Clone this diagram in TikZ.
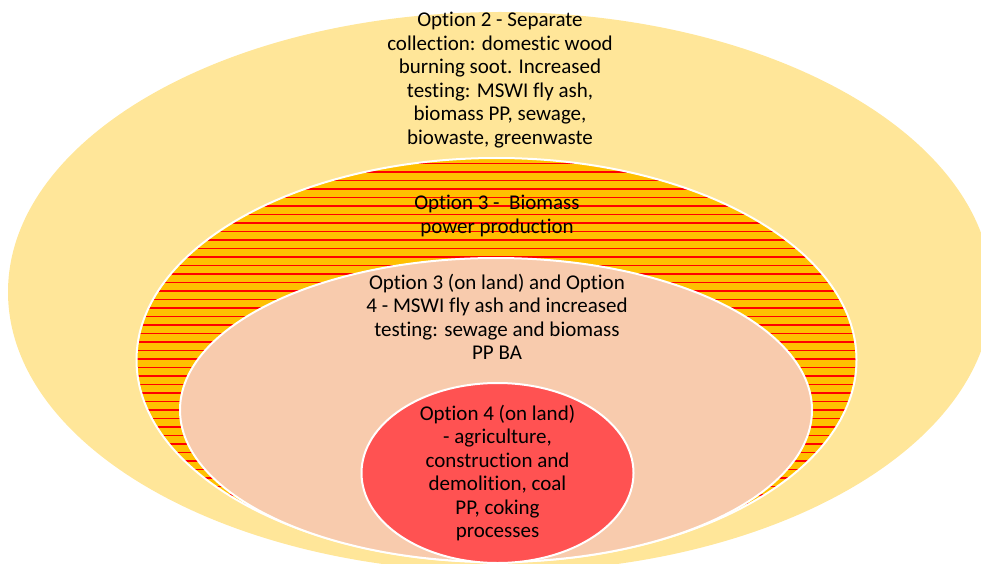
\documentclass[tikz,border=0pt]{standalone}
\usepackage{fontspec}
\setmainfont[Ligatures=NoCommon]{Carlito}
\definecolor{outery}{HTML}{FFE699}
\definecolor{orng}{HTML}{FFC000}
\definecolor{strp}{HTML}{FF0000}
\definecolor{peach}{HTML}{F8CBAD}
\definecolor{core}{HTML}{FF5252}
\tikzset{
  lbl/.style={align=center, inner sep=0pt, font=\fontsize{21}{23.5}\selectfont, text=black},
  ring/.style={draw=white, line width=2pt}
}
\begin{document}
\begin{tikzpicture}[x=1pt,y=-1pt]
\useasboundingbox (0,0) rectangle (981,564);
\begin{scope}
\clip (0,0) rectangle (981,564);
% outer ellipse
\fill[outery] (500,292) ellipse [x radius=492, y radius=280];
% striped ellipse
\fill[orng] (496.5,360) ellipse [x radius=360, y radius=202];
\begin{scope}
\clip (496.5,360) ellipse [x radius=360, y radius=202];
\foreach \i in {0,...,47}
  \draw[strp, line width=1.7pt] (130,{163.5+8.5*\i}) -- (865,{163.5+8.5*\i});
\end{scope}
\draw[ring] (496.5,360) ellipse [x radius=360, y radius=202];
% peach ellipse
\filldraw[ring, fill=peach] (496,410) ellipse [x radius=316, y radius=152];
% core ellipse
\filldraw[ring, fill=core] (497.5,473) ellipse [x radius=136, y radius=90];
\end{scope}
\node[lbl] (o2) at (500,80) {Option 2 - Separate\\collection: domestic wood\\burning soot. Increased\\testing: MSWI fly ash,\\biomass PP, sewage,\\biowaste, greenwaste};
\node[lbl] (o3) at (497,216) {Option 3 -\ \ Biomass\\power production};
\node[lbl] (o34) at (497,317) {Option 3 (on land) and Option\\4 - MSWI fly ash and increased\\testing: sewage and biomass\\PP BA};
\node[lbl] (o4) at (497.5,473) {Option 4 (on land)\\- agriculture,\\construction and\\demolition, coal\\PP, coking\\processes};
\end{tikzpicture}
\end{document}
